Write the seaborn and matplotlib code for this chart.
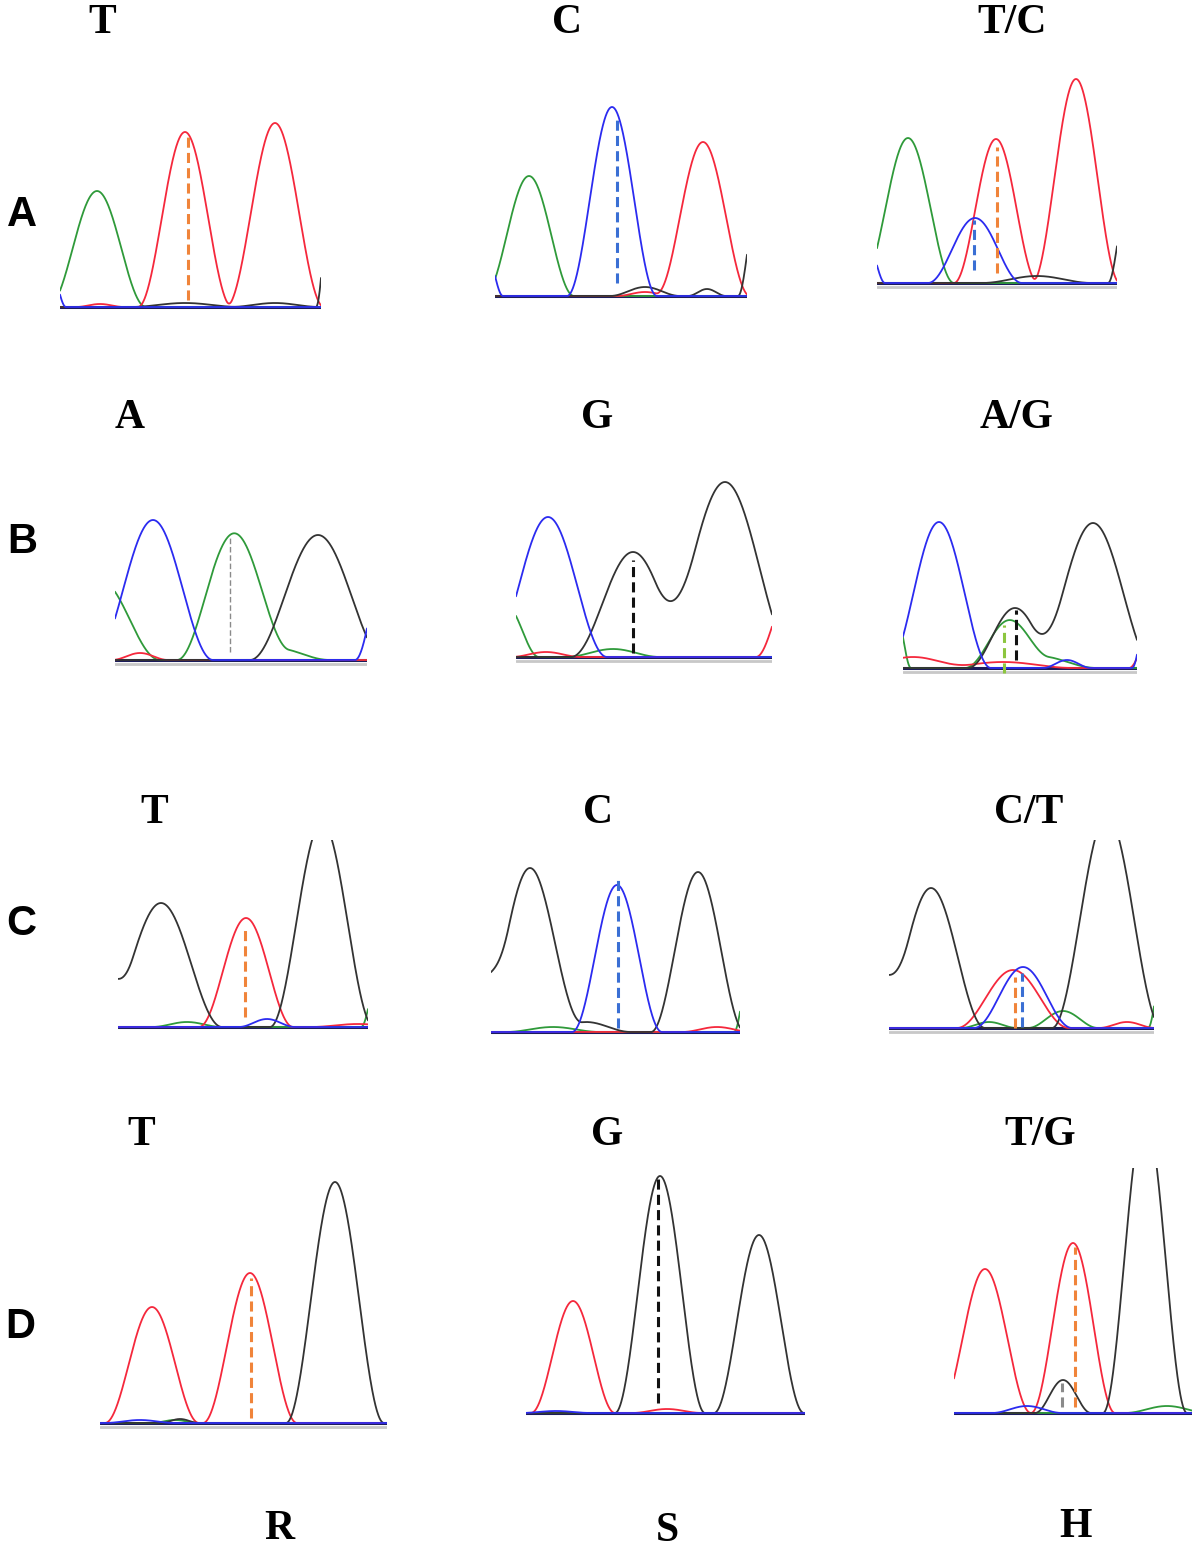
import numpy as np
import pandas as pd
import matplotlib
matplotlib.use("Agg")
import matplotlib.pyplot as plt
import seaborn as sns

# Sequencing chromatograms, 4 SNP sites (rows) x genotype (columns)
# every peak is (base, scan position, height, half base width)

col_labels = [["T", "C", "T/C"],
              ["A", "G", "A/G"],
              ["T", "C", "C/T"],
              ["T", "G", "T/G"]]
row_labels = ["A", "B", "C", "D"]
bottom_labels = ["R", "S", "H"]

peaks_A1 = [("A", 37, 116, 49), ("T", 125, 175, 47), ("T", 215, 184, 49),
            ("C", -10, 40, 16), ("G", 275, 180, 19), ("G", 125, 4, 55),
            ("G", 215, 4, 45), ("T", 40, 3, 24)]
peaks_A2 = [("A", 34, 120, 45), ("C", 117, 189, 45), ("T", 208, 154, 47),
            ("C", -8, 40, 16), ("G", 262, 90, 19), ("G", 150, 9, 35),
            ("G", 212, 7, 19), ("T", 150, 4, 28)]
peaks_A3 = [("A", 31, 145, 46), ("C", 98, 65, 47), ("T", 119, 144, 42),
            ("T", 199, 204, 44), ("C", -8, 35, 16), ("G", 160, 7, 55),
            ("G", 250, 80, 19)]
peaks_B1 = [("C", 38, 140, 60), ("A", -15, 80, 60), ("A", 118, 125, 56),
            ("A", 160, 12, 55), ("G", 203, 125, 68), ("C", 275, 120, 35),
            ("T", 25, 7, 28)]
peaks_B2 = [("C", 32, 140, 59), ("A", -10, 52, 33), ("G", 117, 105, 62),
            ("G", 209, 175, 70), ("T", 275, 70, 35), ("A", 97, 8, 47),
            ("T", 30, 5, 35)]
peaks_B3 = [("C", 36, 146, 52), ("A", -6, 50, 14), ("A", 104, 42, 42),
            ("A", 135, 12, 59), ("G", 112, 60, 47), ("G", 190, 145, 62),
            ("T", 10, 11, 59), ("T", 100, 6, 70), ("C", 164, 8, 24),
            ("C", 250, 100, 21), ("T", 250, 40, 24)]
peaks_C1 = [("G", 43, 124, 61), ("G", -20, 60, 35), ("T", 128, 109, 47),
            ("G", 204, 205, 52), ("C", 149, 8, 28), ("A", 69, 5, 35),
            ("A", 262, 60, 19), ("T", 240, 3, 47)]
peaks_C2 = [("G", 39, 164, 52), ("G", -10, 50, 28), ("G", 95, 10, 45),
            ("C", 126, 147, 45), ("G", 207, 160, 47), ("A", 62, 5, 47),
            ("T", 226, 5, 35), ("A", 262, 90, 19)]
peaks_C3 = [("G", 42, 140, 54), ("G", -15, 60, 35), ("T", 124, 58, 56),
            ("C", 134, 61, 49), ("A", 174, 17, 35), ("A", 100, 6, 28),
            ("G", 218, 213, 55), ("T", 238, 6, 28), ("A", 275, 70, 16)]
peaks_D1 = [("T", 52, 116, 47), ("T", 150, 150, 47), ("G", 235, 241, 49),
            ("C", 40, 3, 35), ("G", 80, 4, 19), ("A", 75, 3, 24)]
peaks_D2 = [("T", 47, 112, 42), ("G", 134, 237, 45), ("G", 233, 178, 45),
            ("T", 141, 4, 35), ("C", 30, 2, 35)]
peaks_D3 = [("T", 31, 144, 46), ("T", 119, 170, 42), ("G", 109, 33, 28),
            ("G", 191, 300, 42), ("C", 73, 7, 35), ("A", 213, 7, 42)]

# base calls marked by dashed lines: (base, position, low, high); N = weak call
calls_A1 = [("T", 128, 7, 170)]
calls_A2 = [("C", 122, 13, 181)]
calls_A3 = [("C", 97, 13, 63), ("T", 120, 10, 136)]
calls_B1 = [("N", 115, 8, 123)]
calls_B2 = [("G", 117, 4, 97)]
calls_B3 = [("A", 101, -5, 43), ("G", 113, 8, 58)]
calls_C1 = [("T", 127, 10, 100)]
calls_C2 = [("C", 127, 4, 152)]
calls_C3 = [("T", 126, 0, 51), ("C", 133, 1, 55)]
calls_D1 = [("T", 151, 5, 145)]
calls_D2 = [("G", 132, 10, 236)]
calls_D3 = [("T", 121, 6, 166), ("N", 108, 6, 30)]

panel_peaks = [[peaks_A1, peaks_A2, peaks_A3], [peaks_B1, peaks_B2, peaks_B3],
               [peaks_C1, peaks_C2, peaks_C3], [peaks_D1, peaks_D2, peaks_D3]]
panel_calls = [[calls_A1, calls_A2, calls_A3], [calls_B1, calls_B2, calls_B3],
               [calls_C1, calls_C2, calls_C3], [calls_D1, calls_D2, calls_D3]]

# ---- layout (reference pixels) ----
W, H = 1197, 1549
# (left, right, top, baseline) of every trace window
boxes = [[(60, 321, 47, 307), (495, 747, 36, 296), (877, 1117, 23, 283)],
         [(115, 367, 400, 660), (516, 772, 397, 657), (903, 1137, 408, 668)],
         [(118, 368, 840, 1027), (491, 740, 772, 1032), (889, 1154, 840, 1028)],
         [(100, 387, 1163, 1423), (526, 805, 1153, 1413), (954, 1192, 1168, 1413)]]
underline = [[False, False, True], [True, True, True],
             [False, False, True], [True, False, False]]
# text anchors: (centre x, baseline y)
title_pos = [[(102, 33), (567, 33), (1012, 33)],
             [(130, 428), (597, 428), (1017, 428)],
             [(154, 823), (598, 823), (1029, 823)],
             [(141, 1145), (607, 1145), (1040, 1145)]]
row_pos = [(22, 226), (22, 553), (21, 935), (20, 1338)]
bottom_pos = [(279, 1539), (667, 1541), (1076, 1537)]

base_colors = {"A": "#2f9a3a", "C": "#2b2bf0", "G": "#333333", "T": "#f5283c"}
call_colors = {"T": "#f0843a", "C": "#3a6fd4", "G": "#111111",
               "A": "#8cc63f", "N": "#8a8a8a"}

sns.set_theme(style="white")
plt.rcParams["font.family"] = ["Liberation Serif", "DejaVu Serif"]

fig = plt.figure(figsize=(W / 100, H / 100), dpi=100)


def trace_frame(peaks, width):
    xs = np.linspace(0, width, 800)
    parts = []
    for base in ["A", "T", "G", "C"]:
        y = np.zeros_like(xs)
        for b, c, h, w in peaks:
            if b == base:
                d = np.clip((xs - c) / w, -1, 1)
                y += h * np.cos(0.5 * np.pi * d) ** 2
        parts.append(pd.DataFrame({"scan": xs, "signal": y, "base": base}))
    return pd.concat(parts, ignore_index=True)


pad = 6
for r in range(4):
    for c in range(3):
        x0, x1, ytop, ybase = boxes[r][c]
        ax = fig.add_axes([x0 / W, 1 - (ybase + pad) / H,
                           (x1 - x0) / W, (ybase + pad - ytop) / H])
        df = trace_frame(panel_peaks[r][c], x1 - x0)
        if underline[r][c]:
            ax.axhline(-4, color="#c8c8c8", lw=2)
        ax.axhline(0, color="#1c1c5a", lw=2.2, zorder=1)
        sns.lineplot(data=df, x="scan", y="signal", hue="base",
                     hue_order=["A", "T", "G", "C"], palette=base_colors,
                     estimator=None, sort=False, lw=1.3, legend=False, ax=ax)
        for base, pos, lo, hi in panel_calls[r][c]:
            thin = base == "N" and r == 1
            ax.vlines(pos, lo, hi, colors=call_colors[base],
                      lw=1.0 if thin else 2.2,
                      linestyles=(0, (4, 2)) if thin else (0, (3.3, 1.7)))
        ax.set_xlim(0, x1 - x0)
        ax.set_ylim(-pad, ybase - ytop)
        ax.axis("off")

        tx, ty = title_pos[r][c]
        fig.text(tx / W, 1 - ty / H, col_labels[r][c], ha="center", va="baseline",
                 fontsize=30, fontweight="bold", color="black",
                 family="Liberation Serif")

for lab, (tx, ty) in zip(row_labels, row_pos):
    fig.text(tx / W, 1 - ty / H, lab, ha="center", va="baseline", color="black",
             fontsize=30, fontweight="bold", family="Liberation Sans")

for lab, (tx, ty) in zip(bottom_labels, bottom_pos):
    fig.text(tx / W, 1 - ty / H, lab, ha="center", va="baseline", color="black",
             fontsize=30, fontweight="bold", family="Liberation Serif")

fig.savefig("out.png", dpi=100, facecolor="white")
